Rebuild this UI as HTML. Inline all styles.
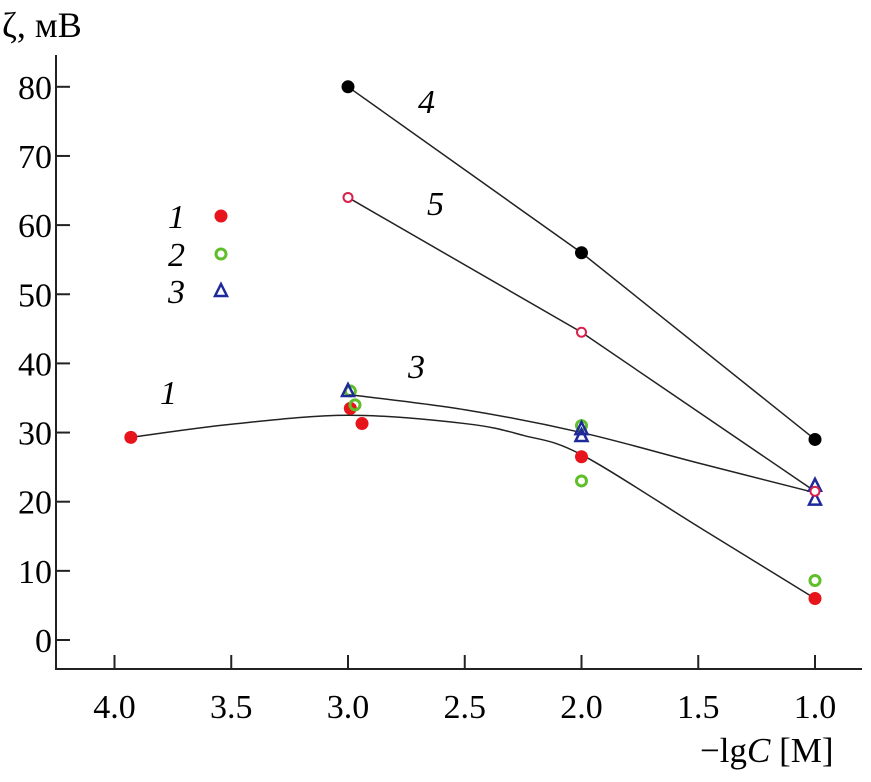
<!DOCTYPE html>
<html><head><meta charset="utf-8"><style>
body{margin:0;background:#fff}
svg{display:block;font-family:"Liberation Serif",serif}
</style></head><body>
<svg id="c" width="871" height="782">
<text x="2" y="37" font-size="36">ζ, мВ</text>
<text x="700" y="762" font-size="35">−lg<tspan font-style="italic">C</tspan> [M]</text>
<g id="axes"></g><g id="lines"></g><g id="marks"></g>
<g font-size="34" font-style="italic">
<text x="418" y="113">4</text>
<text x="427" y="215">5</text>
<text x="408" y="378">3</text>
<text x="160" y="404">1</text>
<text x="168" y="228">1</text>
<text x="168" y="266">2</text>
<text x="168" y="303">3</text>
</g>
</svg>
<script>
const xTicks=[4.0,3.5,3.0,2.5,2.0,1.5,1.0];
const yTicks=[0,10,20,30,40,50,60,70,80];
const s1x=[3.93,2.99,2.94,2.0,1.0], s1y=[29.3,33.5,31.3,26.5,6];
const s2x=[2.99,2.97,2.0,2.0,1.0], s2y=[36,34,31,23,8.6];
const s3x=[3.0,2.0,2.0,1.0,1.0], s3y=[36,30.5,29.5,22.3,20.3];
const s4x=[3.0,2.0,1.0], s4y=[80,56,29];
const s5x=[3.0,2.0,1.0], s5y=[64,44.5,21.5];
const fit1x=[3.93,3.5,3.0,2.5,2.25,2.0,1.5,1.0], fit1y=[29.3,31.2,32.5,31.3,29.6,26.8,16.4,6];
const fit3x=[3.0,2.5,2.0,1.5,1.0], fit3y=[35.5,33.3,30,25.6,21.3];
const X=v=>348+(3-v)*233.5, Y=v=>640-v*6.915;
const NS='http://www.w3.org/2000/svg';
function mk(t,a,p){const e=document.createElementNS(NS,t);for(const k in a)e.setAttribute(k,a[k]);p.appendChild(e);return e;}
const ax=document.getElementById('axes'),ln=document.getElementById('lines'),mg=document.getElementById('marks');
let e=mk('line',{x1:56,y1:55,x2:56,y2:670,stroke:'#222','stroke-width':2},ax);


e=mk('line',{x1:55,y1:669,x2:862,y2:669,stroke:'#222','stroke-width':2},ax);


yTicks.forEach(v=>{mk('line',{x1:56,y1:Y(v),x2:70,y2:Y(v),stroke:'#222','stroke-width':2},ax);
 const t=mk('text',{x:52,y:Y(v)+12,'font-size':34,'text-anchor':'end'},ax);t.textContent=v;
 
 });
xTicks.forEach(v=>{mk('line',{x1:X(v),y1:655,x2:X(v),y2:669,stroke:'#222','stroke-width':2},ax);
 const t=mk('text',{x:X(v),y:718,'font-size':34,'text-anchor':'middle'},ax);t.textContent=v.toFixed(1);
 
 });
function path(xs,ys,name,smooth){let d='M'+X(xs[0])+','+Y(ys[0]);
 if(smooth){for(let i=0;i<xs.length-1;i++){const p0=[X(xs[Math.max(i-1,0)]),Y(ys[Math.max(i-1,0)])],p1=[X(xs[i]),Y(ys[i])],p2=[X(xs[i+1]),Y(ys[i+1])],p3=[X(xs[Math.min(i+2,xs.length-1)]),Y(ys[Math.min(i+2,xs.length-1)])];
 d+=' C'+(p1[0]+(p2[0]-p0[0])/6)+','+(p1[1]+(p2[1]-p0[1])/6)+' '+(p2[0]-(p3[0]-p1[0])/6)+','+(p2[1]-(p3[1]-p1[1])/6)+' '+p2[0]+','+p2[1];}}
 else for(let i=1;i<xs.length;i++)d+=' L'+X(xs[i])+','+Y(ys[i]);
 const p=mk('path',{d:d,fill:'none',stroke:'#222','stroke-width':1.5},ln);
 
 }
path(fit1x,fit1y,'fit-curve-1',true);path(fit3x,fit3y,'fit-curve-3',true);
path(s4x,s4y,'line-4',false);path(s5x,s5y,'line-5',false);
function dot(x,y,kind,name){let m;
 if(kind=='red')m=mk('circle',{cx:x,cy:y,r:6.5,fill:'#e8141c'},mg);
 else if(kind=='black')m=mk('circle',{cx:x,cy:y,r:6.5,fill:'#000'},mg);
 else if(kind=='green')m=mk('circle',{cx:x,cy:y,r:5,fill:'none',stroke:'#5fbf2a','stroke-width':3},mg);
 else if(kind=='pink')m=mk('circle',{cx:x,cy:y,r:4.5,fill:'#fff',stroke:'#d8204a','stroke-width':2},mg);
 else m=mk('path',{d:`M${x},${y-7}L${x+6},${y+5}L${x-6},${y+5}Z`,fill:'none',stroke:'#1f2a9a','stroke-width':2.5},mg);
 
 }
s1x.forEach((v,i)=>dot(X(v),Y(s1y[i]),'red','point-series-1'));
s2x.forEach((v,i)=>dot(X(v),Y(s2y[i]),'green','point-series-2'));
s3x.forEach((v,i)=>dot(X(v),Y(s3y[i]),'blue','point-series-3'));
s4x.forEach((v,i)=>dot(X(v),Y(s4y[i]),'black','point-series-4'));
s5x.forEach((v,i)=>dot(X(v),Y(s5y[i]),'pink','point-series-5'));
dot(221,216,'red','legend-marker-1');dot(221,254,'green','legend-marker-2');dot(221,291,'blue','legend-marker-3');
</script>
</body></html>
